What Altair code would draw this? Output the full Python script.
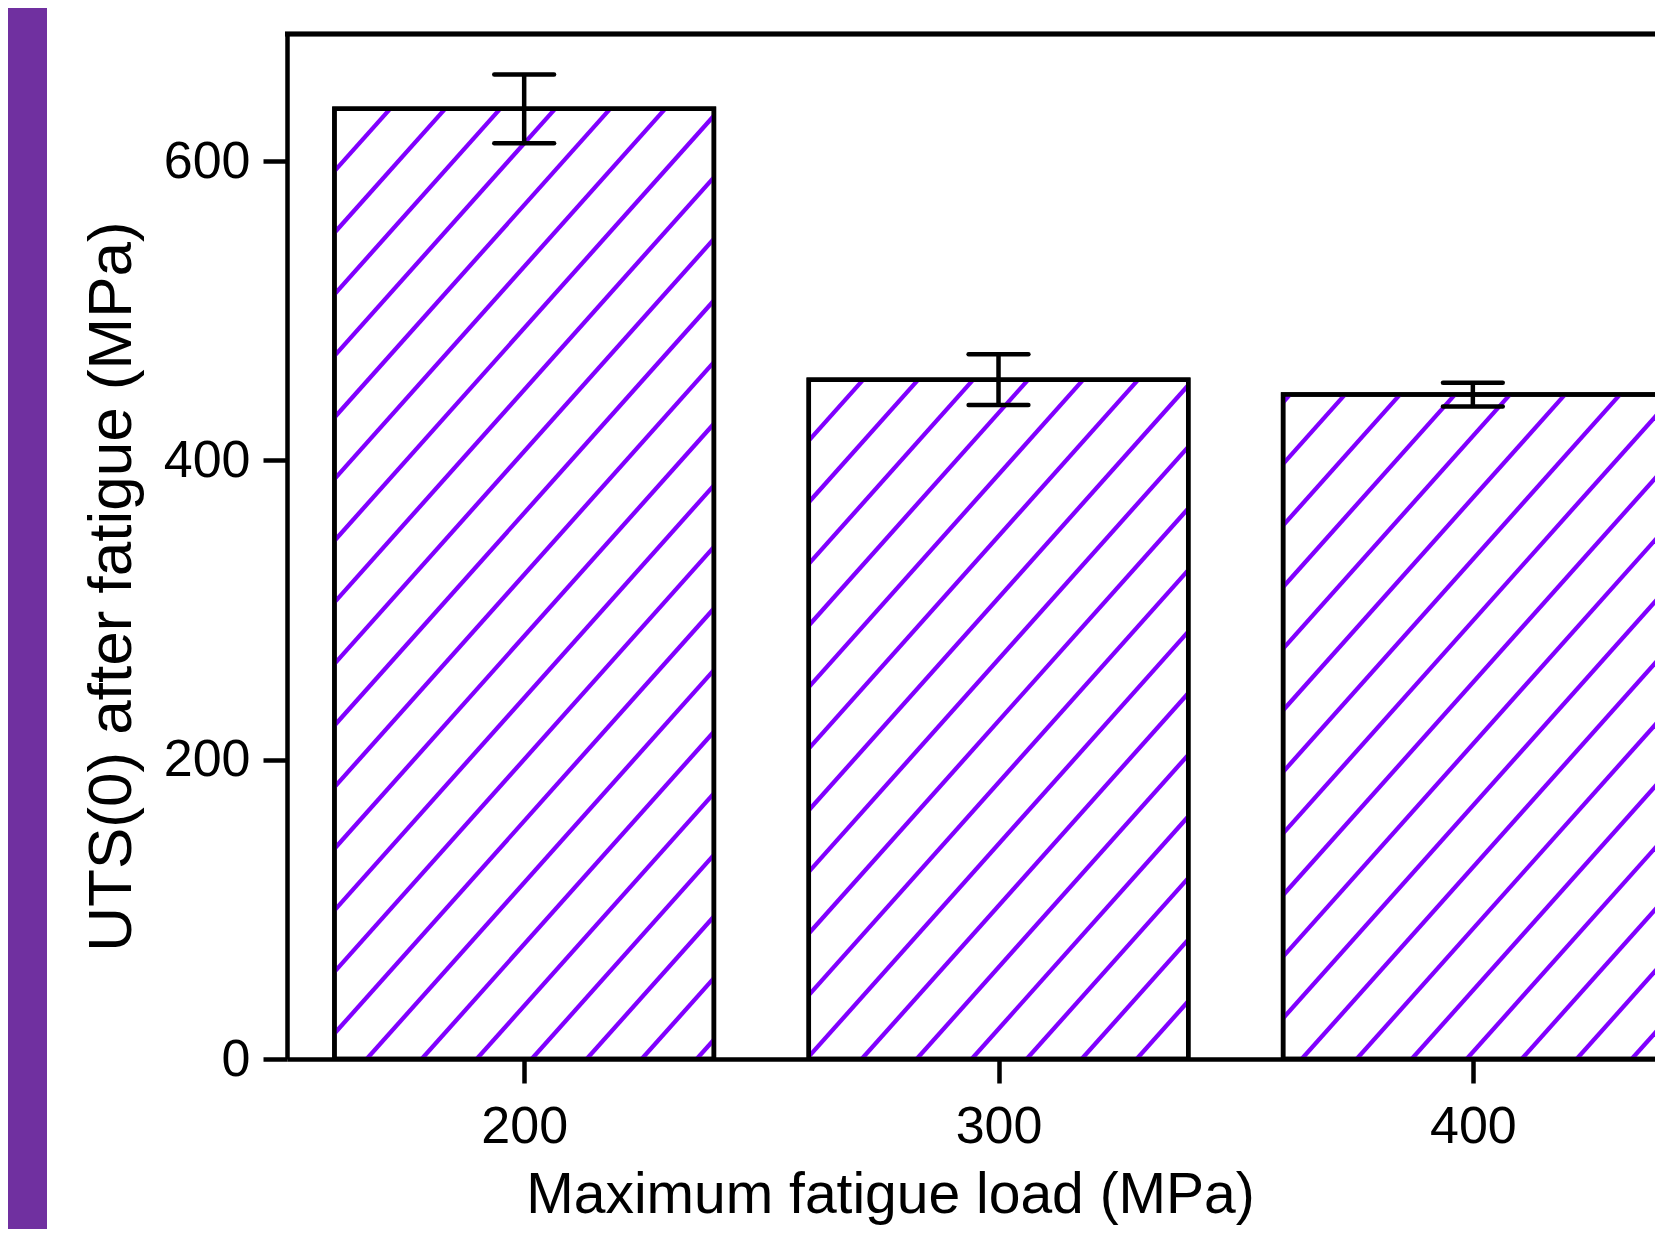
import altair as alt
import pandas as pd

# ---- data ----
loads = [200, 300, 400]          # Maximum fatigue load (MPa)
uts = [635, 454, 444]            # UTS(0) after fatigue (MPa)
errs = [23, 17, 8]               # error bar half-length
x_ticks = [200, 300, 400]
y_ticks = [0, 200, 400, 600]

# ---- layout ----
X_MIN, X_MAX = 150, 438.4
Y_MAX = 685
W, H = 1368, 1025
PAD = {"left": 279, "top": 26, "right": 0, "bottom": 170}
BAR_HALF = 40
CAP_HALF = 6.3
FONT = "Liberation Sans"
HATCH = "#8000ff"
LW = 4.5

df = pd.DataFrame({"load": loads, "uts": uts, "err": errs})

# hatch segments derived from bar rectangles
px_x = W / (X_MAX - X_MIN)
px_y = H / Y_MAX
slope = 1.12 * px_x / px_y
spacing = 55 / px_x
b0 = X_MIN + 79.7 / px_x
segs = []
for L, T in zip(loads, uts):
    left, right = L - BAR_HALF, L + BAR_HALF
    for n in range(-80, 80):
        b = b0 + n * spacing
        xa = max(left, b)
        xb = min(right, b + T / slope)
        if xb > xa:
            segs.append({"x1": xa, "y1": (xa - b) * slope,
                         "x2": xb, "y2": (xb - b) * slope})
hatch_df = pd.DataFrame(segs)

xscale = alt.Scale(domain=[X_MIN, X_MAX], nice=False, zero=False)
yscale = alt.Scale(domain=[0, Y_MAX], nice=False)

XT = "Maximum fatigue load (MPa)"
YT = "UTS(0) after fatigue (MPa)"
xaxis = alt.Axis(
    values=x_ticks, title=XT,
    titleX=603, titleY=153, titleBaseline="alphabetic",
    titleAlign="center", titleAnchor="start",
    labelBaseline="alphabetic", labelPadding=59,
)
yaxis = alt.Axis(
    values=y_ticks, title=YT,
    titleX=-157, titleY=552, titleAngle=270,
    titleBaseline="alphabetic", titleAlign="center", titleAnchor="start",
    labelPadding=13, titleFontSize=62,
)

base = alt.Chart(df)

outline = base.transform_calculate(
    xl=f"datum.load - {BAR_HALF}", xr=f"datum.load + {BAR_HALF}"
).mark_rect(
    fillOpacity=0, stroke="black", strokeWidth=LW, clip=True
).encode(
    x=alt.X("xl:Q", scale=xscale, axis=xaxis, title=XT),
    x2="xr:Q",
    y=alt.Y("uts:Q", scale=yscale, axis=yaxis, title=YT),
    y2=alt.datum(0),
)

strip = alt.Chart(df).mark_rect(color="#7030a0").encode(
    x=alt.value(-PAD["left"]), x2=alt.value(-PAD["left"] + 39),
    y=alt.value(-PAD["top"]), y2=alt.value(H + PAD["bottom"]),
)

hatch = alt.Chart(hatch_df).mark_rule(
    color=HATCH, strokeWidth=4.3, clip=True
).encode(
    x=alt.X("x1:Q", scale=xscale, axis=xaxis, title=XT),
    x2="x2:Q",
    y=alt.Y("y1:Q", scale=yscale, axis=yaxis, title=YT),
    y2="y2:Q",
)

err_v = base.transform_calculate(
    lo="datum.uts - datum.err", hi="datum.uts + datum.err"
).mark_rule(color="black", strokeWidth=LW).encode(
    x=alt.X("load:Q", scale=xscale, axis=xaxis, title=XT),
    y=alt.Y("lo:Q", scale=yscale, axis=yaxis, title=YT),
    y2="hi:Q",
)

cap_hi = base.transform_calculate(
    cl=f"datum.load - {CAP_HALF}", cr=f"datum.load + {CAP_HALF}",
    yv="datum.uts + datum.err",
).mark_rule(color="black", strokeWidth=LW, strokeCap="round").encode(
    x=alt.X("cl:Q", scale=xscale, axis=xaxis, title=XT), x2="cr:Q",
    y=alt.Y("yv:Q", scale=yscale, axis=yaxis, title=YT),
)

cap_lo = base.transform_calculate(
    cl=f"datum.load - {CAP_HALF}", cr=f"datum.load + {CAP_HALF}",
    yv="datum.uts - datum.err",
).mark_rule(color="black", strokeWidth=LW, strokeCap="round").encode(
    x=alt.X("cl:Q", scale=xscale, axis=xaxis, title=XT), x2="cr:Q",
    y=alt.Y("yv:Q", scale=yscale, axis=yaxis, title=YT),
)

top = alt.Chart(df).mark_rule(color="black", strokeWidth=LW).encode(
    x=alt.value(-2), x2=alt.value(W), y=alt.value(0),
)

chart = alt.layer(outline, strip, hatch, outline, err_v, cap_hi, cap_lo, top).properties(
    width=W, height=H,
    autosize=alt.AutoSizeParams(type="none"),
    padding=PAD,
    background="white",
).configure_view(stroke=None).configure_axis(
    domainColor="black", domainWidth=LW, tickColor="black", tickWidth=LW,
    tickSize=24, grid=False,
    labelFont=FONT, labelFontSize=52, labelColor="black",
    titleFont=FONT, titleFontSize=57, titleColor="black",
    titleFontWeight="normal",
)

chart.save("out.html", embed_options={"renderer": "svg", "actions": False})
